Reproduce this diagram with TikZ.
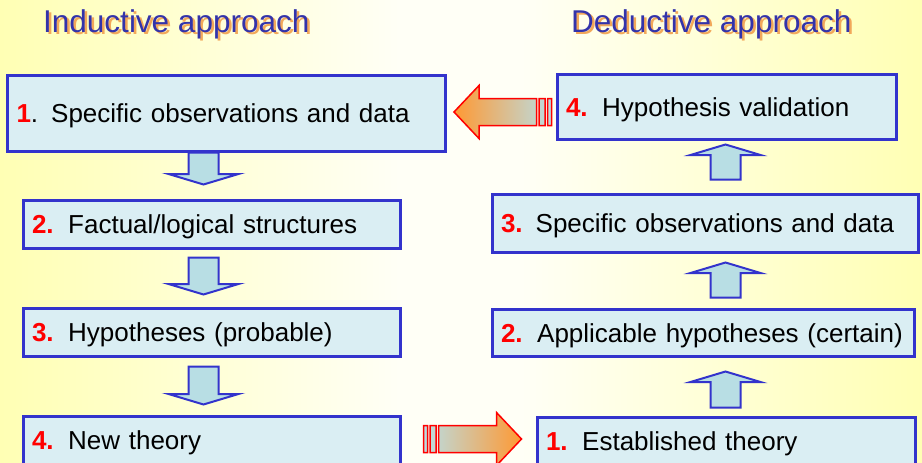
\documentclass[tikz,border=0pt]{standalone}
\usepackage{fontspec}
\setmainfont{Liberation Sans}
\usetikzlibrary{calc}

\definecolor{bgyellow}{RGB}{255,255,180}
\definecolor{bgwhite}{RGB}{255,255,246}
\definecolor{boxfill}{RGB}{218,238,243}
\definecolor{boxline}{RGB}{51,51,204}
\definecolor{arrowfill}{RGB}{184,222,228}
\definecolor{titleblue}{RGB}{51,51,170}
\definecolor{titleshadow}{RGB}{242,168,90}
\definecolor{tiporange}{RGB}{255,153,51}
\definecolor{tailcyan}{RGB}{186,222,228}

\newcommand{\stepno}[1]{\textcolor{red}{\textbf{#1}}}
\newcommand{\stepgap}{\hspace{14.5pt}}
\newcommand{\boxfont}{\fontsize{26}{30}\selectfont}
\newcommand{\titlefont}{\fontsize{31.5}{36}\selectfont}
\newcommand{\shadowed}[1]{%
  \rlap{\hspace{2.5pt}\raisebox{-2.5pt}{\textcolor{titleshadow}{#1}}}%
  \textcolor{titleblue}{#1}}

\tikzset{
  stepbox/.style={draw=boxline, line width=3pt, fill=boxfill, inner xsep=9pt,
    inner ysep=0pt, text height=19pt, text depth=0pt, align=left, font=\boxfont},
  titletext/.style={anchor=base west, inner sep=0pt, font=\titlefont},
  % block arrow, up or down
  vblk/.style={to path={let \p1=(\tikztostart), \p2=(\tikztotarget),
      \n1={ifthenelse(\y2>\y1,1,-1)} in
      (\x1-15pt,\y1) -- (\x1-15pt,\y2-\n1*10.5pt) -- (\x1-35pt,\y2-\n1*10.5pt)
      -- (\x1,\y2) -- (\x1+35pt,\y2-\n1*10.5pt) -- (\x1+15pt,\y2-\n1*10.5pt)
      -- (\x1+15pt,\y1) -- cycle}},
  % striped block arrow, left or right
  hblk/.style={to path={let \p1=(\tikztostart), \p2=(\tikztotarget),
      \n1={ifthenelse(\x2>\x1,1,-1)} in
      (\x1,\y1-13.5pt) rectangle (\x1+\n1*4pt,\y1+13.5pt)
      (\x1+\n1*6.5pt,\y1-13.5pt) rectangle (\x1+\n1*12.5pt,\y1+13.5pt)
      (\x1+\n1*15pt,\y1-13.5pt) -- (\x2-\n1*25pt,\y1-13.5pt)
      -- (\x2-\n1*25pt,\y1-26.5pt) -- (\x2,\y1) -- (\x2-\n1*25pt,\y1+26.5pt)
      -- (\x2-\n1*25pt,\y1+13.5pt) -- (\x1+\n1*15pt,\y1+13.5pt) -- cycle}},
  vstep/.style={draw=boxline, line width=2pt, fill=arrowfill, line join=miter},
  hstep/.style={draw=red, line width=1.5pt, line join=miter}
}

\begin{document}
\begin{tikzpicture}[x=1pt, y=-1pt]
  \useasboundingbox (0,0) rectangle (922,463);
  % background: yellow at the sides, nearly white in the middle
  \shade[left color=bgyellow, right color=bgwhite] (0,0) rectangle (400,463);
  \fill[bgwhite] (399.5,0) rectangle (520.5,463);
  \shade[left color=bgwhite, right color=bgyellow] (520,0) rectangle (922,463);

  % column headings
  \node[titletext] (ind) at (43,32) {\shadowed{Inductive approach}};
  \node[titletext] (ded) at (571,32) {\shadowed{Deductive approach}};

  % inductive steps
  \node[stepbox, text width=420pt, minimum height=76] (L1) at (226.5,113)
    {\stepno{1}. Specific observations and data};
  \node[stepbox, text width=359pt, minimum height=48] (L2) at (211.5,224)
    {\stepno{2.}\stepgap Factual/logical structures};
  \node[stepbox, text width=359pt, minimum height=48] (L3) at (211.5,332)
    {\stepno{3.}\stepgap Hypotheses (probable)};
  \node[stepbox, text width=359pt, minimum height=48] (L4) at (211.5,440)
    {\stepno{4.}\stepgap New theory};

  % deductive steps
  \node[stepbox, text width=360pt, minimum height=48] (R1) at (726,441)
    {\stepno{1.}\stepgap Established theory};
  \node[stepbox, text width=404pt, minimum height=47] (R2) at (703,332.5)
    {\stepno{2.}\stepgap Applicable hypotheses (certain)};
  \node[stepbox, text width=408pt, minimum height=58] (R3) at (705,223)
    {\stepno{3.} Specific observations and data};
  \node[stepbox, text width=321pt, minimum height=65] (R4) at (726.5,106.5)
    {\stepno{4.}\stepgap Hypothesis validation};

  \coordinate (lcol) at (203.5,0);
  \coordinate (rcol) at (725.5,0);

  % downward arrows
  \path[vstep] (L1.south -| lcol) to[vblk] ($(L2.north -| lcol)+(0,-14)$);
  \path[vstep] ($(L2.south -| lcol)+(0,8)$) to[vblk] ($(L3.north -| lcol)+(0,-12)$);
  \path[vstep] ($(L3.south -| lcol)+(0,9)$) to[vblk] ($(L4.north -| lcol)+(0,-10)$);

  % upward arrows
  \path[vstep] ($(R1.north -| rcol)+(0,-8)$) to[vblk] ($(R2.south -| rcol)+(0,14)$);
  \path[vstep] ($(R2.north -| rcol)+(0,-10)$) to[vblk] ($(R3.south -| rcol)+(0,9)$);
  \path[vstep] ($(R3.north -| rcol)+(0,-13)$) to[vblk] ($(R4.south -| rcol)+(0,4)$);

  % links between the two columns
  \path[hstep, left color=tiporange, right color=tailcyan]
    ($(R4.west |- L1.east)+(-4,-1)$) to[hblk] ($(L1.east)+(7,-1)$);
  \path[hstep, left color=tailcyan, right color=tiporange]
    ($(L4.east)+(22,-1)$) to[hblk] ($(R1.west |- L4.east)+(-14,-1)$);
\end{tikzpicture}
\end{document}
